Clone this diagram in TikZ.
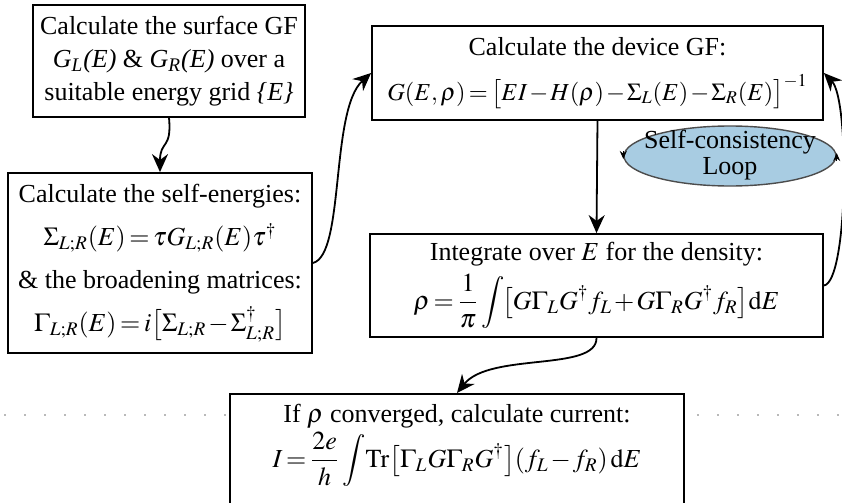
\documentclass[tikz,border=0pt]{standalone}
\usepackage{mathptmx}
\usepackage{fontspec}
\setmainfont{Liberation Serif}
\usetikzlibrary{shapes.geometric,arrows.meta}
\newcommand\myfs{\fontsize{13}{16.5}\selectfont\thickmuskip=2.5mu plus 1mu\medmuskip=1.5mu plus 1mu}
\newcommand\mysmallfs{\fontsize{12.2}{15}\selectfont}
\newcommand\myellfs{\fontsize{13}{13}\selectfont}
\definecolor{loopblue}{RGB}{168,204,226}
\begin{document}
\begin{tikzpicture}[x=0.5pt,y=-0.5pt,
  box/.style={draw, line width=0.9pt, inner sep=0pt, align=center, font=\myfs},
  txt/.style={inner sep=0pt, align=center, font=\myfs},
  arr/.style={line width=0.9pt, -{Stealth[length=9pt,width=8pt]}},
  tiny/.style={line width=0.6pt, -{Stealth[length=4pt,width=3.5pt]}},
  dots/.style={gray!55, line width=1pt, dash pattern=on 1pt off 9pt}]
\useasboundingbox (0,0) rectangle (842,503);

\node[box, minimum width=136pt, minimum height=56pt] (b1) at (169,61)
  {Calculate the surface GF\\
   {\itshape G\textsubscript{L}(E)} \& {\itshape G\textsubscript{R}(E)} over a\\
   suitable energy grid {\itshape\{E\}}};

\node[box, minimum width=152pt, minimum height=90pt] (b2) at (160,263)
  {Calculate the self-energies:\\[5pt]
   $\Sigma_{L;R}(E)=\tau G_{L;R}(E)\tau^{\dagger}$\\[5pt]
   \& the broadening matrices:\\[5pt]
   $\Gamma_{L;R}(E)=i\bigl[\Sigma_{L;R}-\Sigma^{\dagger}_{L;R}\bigr]$};

\node[box, minimum width=225.5pt, minimum height=47pt] (b3) at (597.5,73)
  {Calculate the device GF:\\[6pt]
   {\mysmallfs$G(E,\rho)=\bigl[EI-H(\rho)-\Sigma_{L}(E)-\Sigma_{R}(E)\bigr]^{-1}$}};

\node[box, minimum width=226.5pt, minimum height=51.5pt] (b4) at (596.5,285.5)
  {Integrate over $E$ for the density:\\[3pt]
   $\displaystyle\rho=\frac{1}{\pi}\int\!\bigl[G\Gamma_{L}G^{\dagger}f_{L}+G\Gamma_{R}G^{\dagger}f_{R}\bigr]\mathrm{d}E$};

\node[box, minimum width=227pt, anchor=north, inner ysep=5pt] (b5) at (457,393)
  {If $\rho$ converged, calculate current:\\[1pt]
   $\displaystyle I=\frac{2e}{h}\int\!\mathrm{Tr}\bigl[\Gamma_{L}G\Gamma_{R}G^{\dagger}\bigr](f_{L}-f_{R})\,\mathrm{d}E$\\[14pt]
   \mbox{}};
\draw[dots] (4,415) -- (b5.west |- 0,415);
\draw[dots] (b5.east |- 0,415) ++(12,0) -- (842,415);

\node[draw=black!70, line width=0.7pt, fill=loopblue, ellipse, minimum width=106pt, minimum height=30pt, inner sep=0pt] (ell) at (730,156) {};
\node[inner sep=0pt, align=center, font=\myellfs] (ellt) at (730,155) {Self-consistency\\Loop};
\draw[tiny] ([yshift=2.5pt]ell.west) -- ([yshift=-1.5pt]ell.west);
\draw[tiny] ([yshift=-2.5pt]ell.east) -- ([yshift=1.5pt]ell.east);

\draw[arr] (b1.south) .. controls (172,150) and (160,140) .. (b2.north);
\draw[arr] (b2.east) .. controls (345,255) and (330,110) .. (b3.west);
\draw[arr] (b4.east) .. controls (848,282) and (850,100) .. (b3.east);
\draw[arr] (b3.south) -- (b4.north);
\draw[arr] (b4.south) .. controls (597,372) and (490,352) .. (b5.north);
\end{tikzpicture}
\end{document}
